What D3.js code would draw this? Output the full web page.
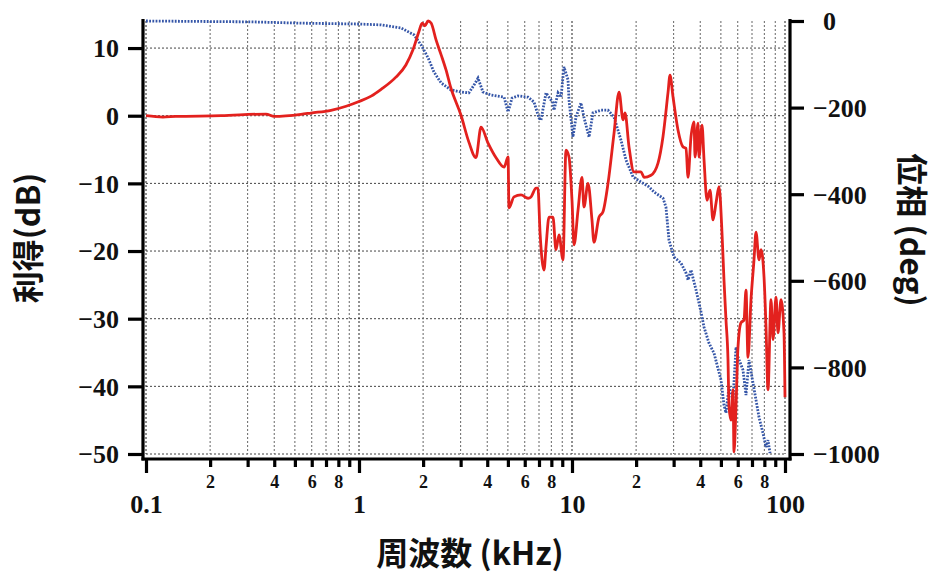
<!DOCTYPE html>
<html>
<head>
<meta charset="utf-8">
<script src="https://cdn.jsdelivr.net/npm/d3@7"></script>
<style>
  html, body { margin: 0; padding: 0; background: #fff; }
  svg { display: block; }
  .num { font-family: "Liberation Serif", "Times New Roman", serif; font-weight: bold; fill: #111; }
  .title { font-family: "Noto Sans CJK JP", "Noto Sans", sans-serif; font-weight: bold; fill: #111; }
</style>
</head>
<body>
<svg id="chart" width="937" height="575"></svg>
<script>
// ---- Data ----
const gainFreq = [0.1,0.12,0.138,0.225,0.366,0.40,0.534,0.595,0.739,0.87,1.0,1.14,1.27,1.49,1.66,1.79,1.91,1.98,2.04,2.11,2.18,2.30,2.43,2.56,2.70,3.01,3.28,3.54,3.74,4.03,4.40,4.80,5.01,5.06,5.34,5.76,6.22,6.42,6.78,6.92,7.08,7.39,7.55,7.80,8.14,8.41,8.69,9.07,9.37,9.68,10.0,10.22,10.67,11.14,11.38,11.89,12.41,12.68,13.39,13.98,14.76,15.75,16.63,17.36,17.74,18.52,19.55,21.09,21.78,23.49,25.34,26.74,28.23,28.85,29.80,31.45,33.20,34.30,35.05,36.21,37.40,37.81,39.05,39.47,40.78,41.67,43.04,44.46,45.92,47.44,48.99,50.61,51.71,52.84,54.00,54.59,55.78,57.00,57.62,58.88,60.16,62.14,64.19,65.60,67.03,69.24,71.53,73.09,75.50,77.15,79.70,81.44,83.22,85.97,87.85,90.75,92.71,95.77,98.93,100];
const gainDB = [0.0,-0.2,-0.1,0.0,0.25,-0.1,0.2,0.4,0.8,1.4,2.1,2.9,3.9,5.7,7.5,9.7,12.4,13.7,13.3,14.0,13.7,11.2,9.0,6.8,4.1,0.1,-3.9,-6.2,-1.7,-4.0,-6.2,-7.6,-6.1,-13.6,-12.0,-11.7,-12.2,-12.0,-10.7,-10.7,-17.3,-22.8,-19.4,-15.0,-15.0,-19.8,-17.6,-21.3,-5.1,-6.1,-12.5,-19.1,-14.0,-9.1,-13.5,-10.0,-15.4,-18.7,-15.0,-14.2,-10.0,-2.6,3.5,-0.6,0.4,-4.6,-8.3,-8.3,-9.1,-8.8,-7.0,-3.1,3.4,6.0,2.8,-2.1,-4.6,-4.8,-9.1,-3.1,-0.9,-6.1,-1.1,-6.1,-1.4,-6.5,-12.5,-11.0,-15.4,-12.9,-10.5,-17.3,-24.3,-30.2,-36.1,-43.0,-45.0,-40.5,-49.7,-43.0,-34.2,-30.6,-30.2,-25.8,-35.7,-27.2,-21.3,-17.2,-21.3,-19.8,-23.8,-31.2,-40.5,-27.2,-33.1,-26.8,-32.1,-27.2,-32.1,-41.6];

const phaseFreq = [0.1,0.311,0.534,1.0,1.27,1.574,1.812,1.955,2.11,2.249,2.43,2.70,3.01,3.28,3.467,3.62,3.82,4.167,4.80,5.01,5.23,5.58,6.22,6.63,7.00,7.15,7.55,7.80,8.14,8.23,8.60,8.88,9.17,9.58,9.68,10.1,10.44,11.02,11.38,12.02,12.55,13.68,14.76,15.75,16.98,17.93,19.34,21.09,22.98,24.27,26.74,27.62,28.53,30.12,32.49,34.30,35.05,36.21,38.21,40.34,41.67,43.98,46.43,50.06,51.71,52.84,54.59,57.00,58.88,60.16,63.50,65.60,67.76,70.76,73.09,75.50,78.84,81.44,83.22,85.05];
const phaseDeg = [0,-2,-5,-7,-9,-16,-32,-55,-85,-118,-143,-159,-164,-166,-148,-132,-164,-171,-176,-210,-178,-173,-176,-187,-224,-229,-166,-176,-189,-206,-166,-176,-106,-136,-182,-268,-222,-189,-222,-268,-212,-206,-206,-222,-275,-321,-360,-372,-383,-395,-409,-430,-506,-545,-559,-582,-598,-575,-621,-672,-707,-744,-767,-829,-887,-905,-845,-875,-753,-776,-806,-864,-783,-836,-875,-915,-952,-984,-968,-998];

const gainTicks = [10,0,-10,-20,-30,-40,-50];
const phaseTicks = [0,-200,-400,-600,-800,-1000];
const majorFreqTicks = [0.1,1,10,100];
const minorFreqTicks = [0.2,0.3,0.4,0.5,0.6,0.7,0.8,0.9,2,3,4,5,6,7,8,9,20,30,40,50,60,70,80,90];
const minorLabelled = [2,4,6,8];
const xTitle = "周波数 (kHz)";
const yLeftTitle = "利得(dB)";
const yRightTitle = "位相 (deg)";

// ---- Layout ----
const svg = d3.select("#chart");
const x = d3.scaleLog().domain([0.1, 100]).range([146, 785]);
const yG = d3.scaleLinear().domain([-50, 14]).range([454, 21]);
const yP = d3.scaleLinear().domain([-1000, 0]).range([454, 21]);
const axisY = 459, leftX = 143, rightX = 790;

// grid
const grid = svg.append("g").attr("stroke", "#444").attr("stroke-width", 1).attr("stroke-dasharray", "2,2").attr("fill", "none");
grid.selectAll("line.h").data(gainTicks).enter().append("line")
  .attr("x1", 146).attr("x2", 785).attr("y1", d => yG(d)).attr("y2", d => yG(d));
grid.selectAll("line.v").data(majorFreqTicks.concat(minorFreqTicks)).enter().append("line")
  .attr("x1", d => x(d)).attr("x2", d => x(d)).attr("y1", 21).attr("y2", 454)
  .attr("stroke", d => (majorFreqTicks.includes(d) ? "#222" : "#666"));

// curves
const phaseLine = d3.line().x((d, i) => x(phaseFreq[i])).y(d => yP(d));
svg.append("path").datum(phaseDeg).attr("d", phaseLine)
  .attr("fill", "none").attr("stroke", "#3556a8").attr("stroke-width", 2.8)
  .attr("stroke-dasharray", "1.8,1.4");

const gainLine = d3.line().x((d, i) => x(gainFreq[i])).y(d => yG(d)).curve(d3.curveMonotoneX);
svg.append("path").datum(gainDB).attr("d", gainLine)
  .attr("fill", "none").attr("stroke", "#e3211e").attr("stroke-width", 2.8)
  .attr("stroke-linejoin", "round");

// axes lines
const ax = svg.append("g").attr("stroke", "#000").attr("stroke-width", 3.2);
ax.append("line").attr("x1", leftX).attr("x2", leftX).attr("y1", 19).attr("y2", axisY + 1.5);
ax.append("line").attr("x1", rightX).attr("x2", rightX).attr("y1", 19).attr("y2", axisY + 1.5);
ax.append("line").attr("x1", leftX - 1.5).attr("x2", rightX + 1.5).attr("y1", axisY).attr("y2", axisY);

function styleAxis(g) {
  g.select(".domain").remove();
  g.selectAll(".tick line").attr("stroke", "#000").attr("stroke-width", 3.2);
  g.selectAll(".tick text").attr("class", "num").attr("fill", "#111");
}

// left gain axis
svg.append("g").attr("transform", `translate(${leftX},0)`)
  .call(d3.axisLeft(yG).tickValues(gainTicks).tickSize(15).tickPadding(9).tickFormat(d3.format("d")))
  .call(styleAxis)
  .call(g => g.selectAll(".tick text").attr("font-size", 26).attr("dy", "0.34em"));

// right phase axis
svg.append("g").attr("transform", `translate(${rightX},0)`)
  .call(d3.axisRight(yP).tickValues(phaseTicks).tickSize(14).tickPadding(9).tickFormat(d3.format("d")))
  .call(styleAxis)
  .call(g => g.selectAll(".tick text").attr("font-size", 26).attr("dy", "0.34em")
    .attr("x", d => d === 0 ? 33 : 23));

// bottom: major ticks
svg.append("g").attr("transform", `translate(0,${axisY})`)
  .call(d3.axisBottom(x).tickValues(majorFreqTicks).tickSize(14).tickFormat(d => String(d)))
  .call(styleAxis)
  .call(g => g.selectAll(".tick text").attr("font-size", 26).attr("y", 54).attr("dy", 0));

// bottom: minor ticks
svg.append("g").attr("transform", `translate(0,${axisY})`)
  .call(d3.axisBottom(x).tickValues(minorFreqTicks).tickSize(8)
    .tickFormat(d => { const m = Math.round(d / Math.pow(10, Math.floor(Math.log10(d) + 1e-9))); return minorLabelled.includes(m) ? String(m) : ""; }))
  .call(styleAxis)
  .call(g => g.selectAll(".tick text").attr("font-size", 18).attr("y", 29).attr("dy", 0));

// titles
svg.append("text").attr("class", "title").attr("font-size", 32)
  .attr("text-anchor", "middle").attr("x", 470).attr("y", 565).text(xTitle);
svg.append("text").attr("class", "title").attr("font-size", 32)
  .attr("text-anchor", "middle").attr("transform", "translate(40,238) rotate(-90)").text(yLeftTitle);
svg.append("text").attr("class", "title").attr("font-size", 32)
  .attr("text-anchor", "middle").attr("transform", "translate(900,230) rotate(90)").text(yRightTitle);
</script>
</body>
</html>
